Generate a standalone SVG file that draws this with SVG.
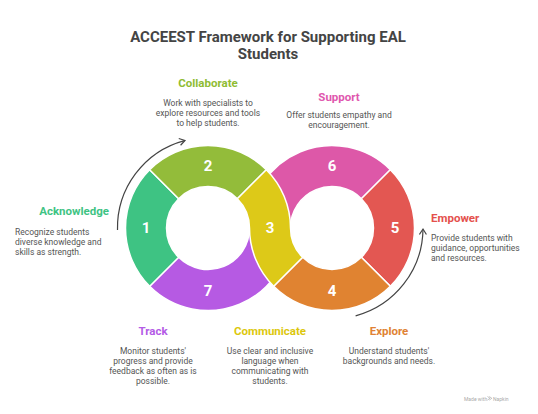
<svg xmlns="http://www.w3.org/2000/svg" width="538" height="414" viewBox="0 0 538 414">
<defs>
<style>
text{font-family:Roboto,"Liberation Sans",sans-serif;}
.title{font-size:15px;font-weight:700;fill:#444;text-anchor:middle;}
.h{font-size:11.5px;font-weight:700;}
.d{font-size:8.5px;fill:#555;}
.c{text-anchor:middle;}
.seg{stroke:#fff;stroke-width:1.5;stroke-linejoin:round;}
.num{font-size:15px;font-weight:700;fill:#fff;text-anchor:middle;}
.arc{fill:none;stroke:#444;stroke-width:1.2;}
</style>
<marker id="ah" markerWidth="10" markerHeight="10" refX="6" refY="4" orient="auto" markerUnits="userSpaceOnUse">
<path d="M1,0.5 L6.5,4 L1,7.5" fill="none" stroke="#444" stroke-width="1.2"/>
</marker>
</defs>
<rect width="538" height="414" fill="#fff"/>
<text class="title" x="268" y="42">ACCEEST Framework for Supporting EAL</text>
<text class="title" x="268" y="59">Students</text>

<g id="node6">
<path class="seg" fill="#DD58A8" d="M249.5,228 A82.5,82.5 0 0 1 390.34,169.66 L361.34,198.66 A41.5,41.5 0 0 0 290.5,228 Z"/>
<text class="num" x="332" y="171">6</text>
</g>
<g id="node7">
<path class="seg" fill="#B65AE3" d="M290.5,228 A82.5,82.5 0 0 1 149.66,286.34 L178.66,257.34 A41.5,41.5 0 0 0 249.5,228 Z"/>
<text class="num" x="208" y="296">7</text>
</g>
<g id="node1">
<path class="seg" fill="#3EC383" d="M149.66,286.34 A82.5,82.5 0 0 1 149.66,169.66 L178.66,198.66 A41.5,41.5 0 0 0 178.66,257.34 Z"/>
<text class="num" x="146" y="233">1</text>
</g>
<g id="node2">
<path class="seg" fill="#93BC3A" d="M149.66,169.66 A82.5,82.5 0 0 1 266.34,169.66 L237.34,198.66 A41.5,41.5 0 0 0 178.66,198.66 Z"/>
<text class="num" x="208" y="171">2</text>
</g>
<g id="node5">
<path class="seg" fill="#E35752" d="M390.34,169.66 A82.5,82.5 0 0 1 390.34,286.34 L361.34,257.34 A41.5,41.5 0 0 0 361.34,198.66 Z"/>
<text class="num" x="395" y="233">5</text>
</g>
<g id="node4">
<path class="seg" fill="#E08331" d="M390.34,286.34 A82.5,82.5 0 0 1 273.66,286.34 L302.66,257.34 A41.5,41.5 0 0 0 361.34,257.34 Z"/>
<text class="num" x="332" y="296">4</text>
</g>
<g id="node3">
<path class="seg" fill="#DDC918" d="M266.34,169.66 A82.5,82.5 0 0 1 290.5,228 A41.5,41.5 0 0 0 302.66,257.34 L273.66,286.34 A82.5,82.5 0 0 1 249.5,228 A41.5,41.5 0 0 0 237.34,198.66 Z"/>
<text class="num" x="270" y="233">3</text>
</g>

<g id="connectors">
<path class="arc" marker-end="url(#ah)" d="M117.5,230 A90.5,90.5 0 0 1 184.5,140.6"/>
<path class="arc" marker-end="url(#ah)" d="M355.6,315.9 A91,91 0 0 0 423,229.5"/>
</g>

<g id="label-acknowledge">
<text class="h" x="109" y="215" text-anchor="end" fill="#3EC383">Acknowledge</text>
<text class="d" x="15" y="235">Recognize students</text>
<text class="d" x="15" y="245">diverse knowledge and</text>
<text class="d" x="15" y="255">skills as strength.</text>
</g>
<g id="label-collaborate">
<text class="h c" x="208" y="87" fill="#8FBC33">Collaborate</text>
<text class="d c" x="208" y="106">Work with specialists to</text>
<text class="d c" x="208" y="116">explore resources and tools</text>
<text class="d c" x="208" y="126">to help students.</text>
</g>
<g id="label-support">
<text class="h c" x="339" y="101" fill="#E057AE">Support</text>
<text class="d c" x="339" y="118">Offer students empathy and</text>
<text class="d c" x="339" y="128">encouragement.</text>
</g>
<g id="label-empower">
<text class="h" x="431" y="222" fill="#E4504C">Empower</text>
<text class="d" x="431" y="241">Provide students with</text>
<text class="d" x="431" y="251">guidance, opportunities</text>
<text class="d" x="431" y="261">and resources.</text>
</g>
<g id="label-track">
<text class="h c" x="153" y="335" fill="#B45BE6">Track</text>
<text class="d c" x="153" y="354">Monitor students'</text>
<text class="d c" x="153" y="364">progress and provide</text>
<text class="d c" x="153" y="374">feedback as often as is</text>
<text class="d c" x="153" y="384">possible.</text>
</g>
<g id="label-communicate">
<text class="h c" x="270" y="335" fill="#DCC70D">Communicate</text>
<text class="d c" x="270" y="354">Use clear and inclusive</text>
<text class="d c" x="270" y="364">language when</text>
<text class="d c" x="270" y="374">communicating with</text>
<text class="d c" x="270" y="384">students.</text>
</g>
<g id="label-explore">
<text class="h c" x="389" y="335" fill="#E08234">Explore</text>
<text class="d c" x="389" y="354">Understand students'</text>
<text class="d c" x="389" y="364">backgrounds and needs.</text>
</g>
<g id="watermark">
<text x="464" y="401" font-size="5" fill="#aaa">Made with</text>
<path d="M487.5,396.5 l2.5,1.8 l-2.5,1.8 M489.3,396.5 l2.5,1.8 l-2.5,1.8" fill="none" stroke="#aaa" stroke-width="0.7"/>
<text x="493" y="401" font-size="5" fill="#aaa">Napkin</text>
</g>
</svg>
